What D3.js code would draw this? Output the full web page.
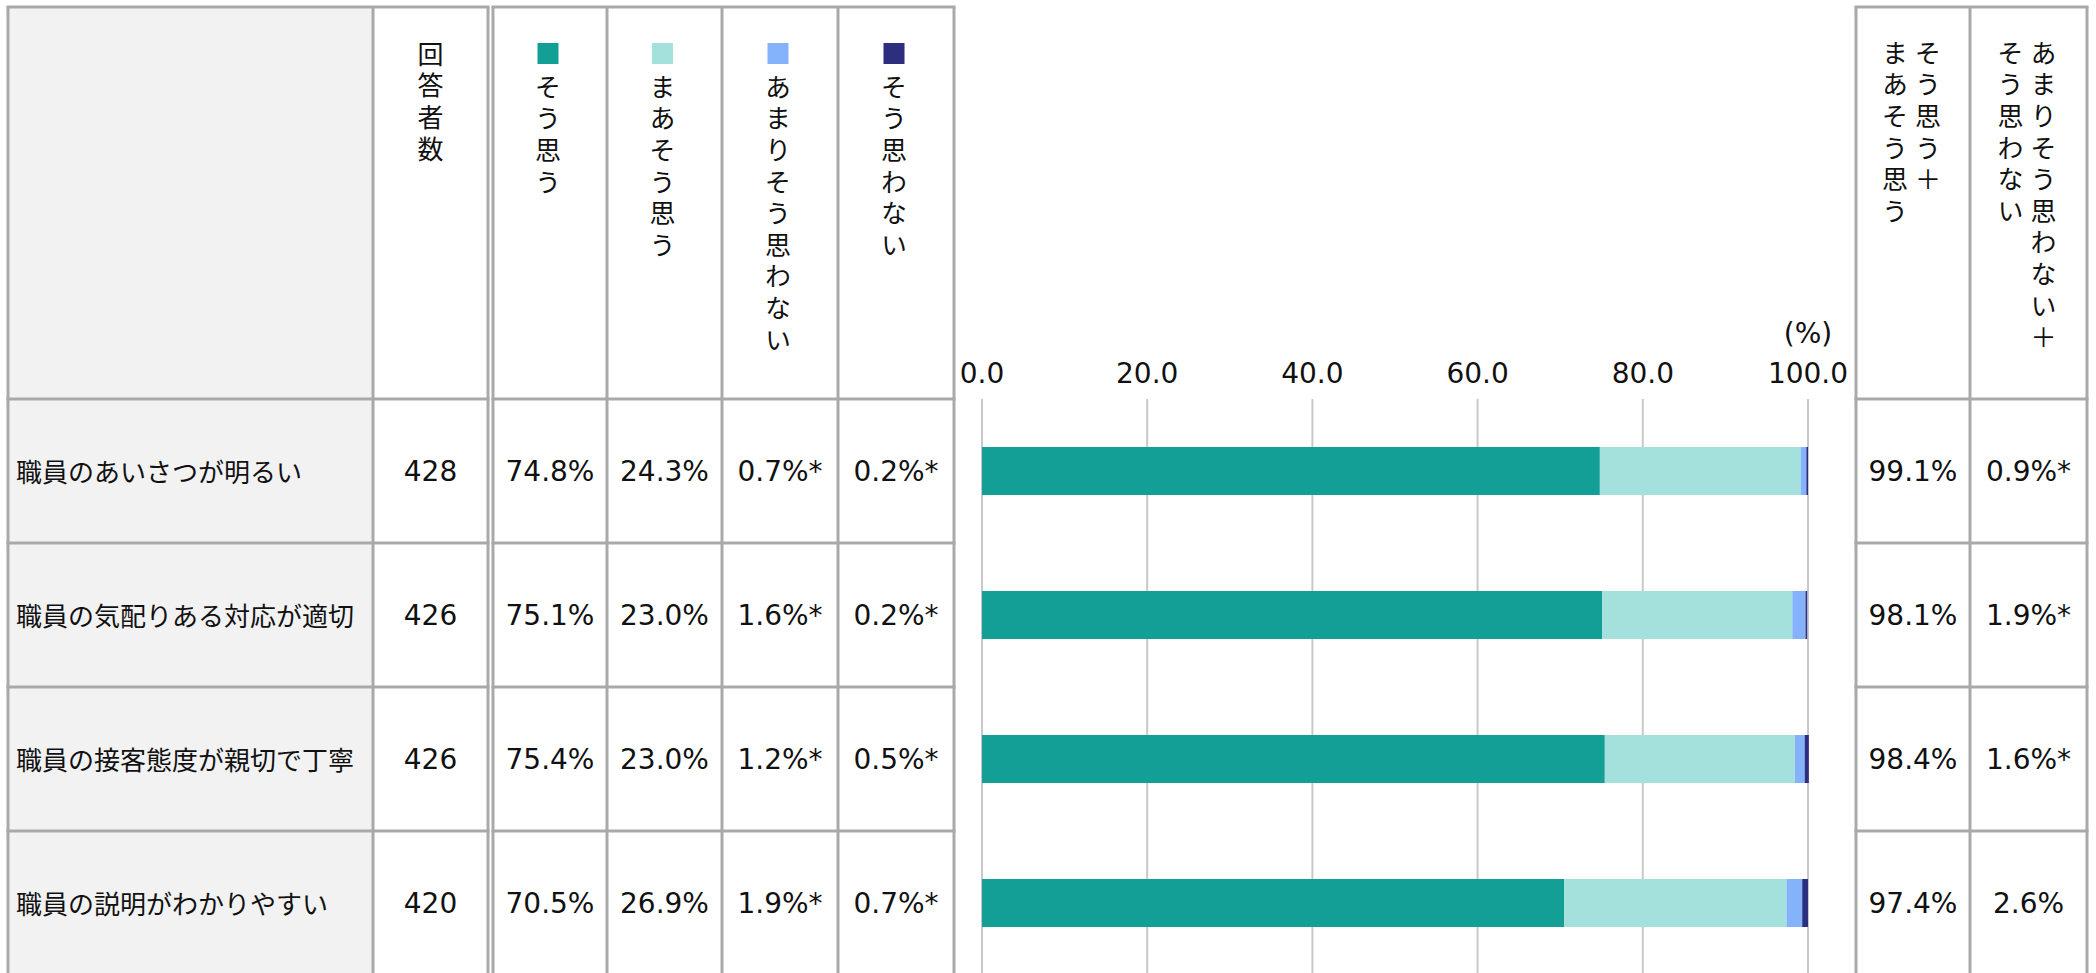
<!DOCTYPE html>
<html>
<head>
<meta charset="utf-8">
<script src="https://cdn.jsdelivr.net/npm/d3@7"></script>
<style>
    body { margin: 0; background: #fff; }
    svg text { font-family: "DejaVu Sans", "Noto Sans CJK JP", sans-serif; fill: #111; }
    .jp { font-family: "Noto Sans CJK JP", sans-serif; }
    .vert { writing-mode: vertical-rl; font-family: "Noto Sans CJK JP", sans-serif; font-size: 26px; letter-spacing: 5.6px; }
</style>
</head>
<body>
<svg id="chart"></svg>
<script>
// 設問
const items = ['職員のあいさつが明るい', '職員の気配りある対応が適切', '職員の接客態度が親切で丁寧', '職員の説明がわかりやすい'];
const counts = [428, 426, 426, 420];

// 回答（%）
const seriesNames = ['そう思う', 'まあそう思う', 'あまりそう思わない', 'そう思わない'];
const seriesColors = ['#139e96', '#a5e1dc', '#85b3fb', '#2d2e80'];
const agree = [74.8, 75.1, 75.4, 70.5];
const somewhatAgree = [24.3, 23.0, 23.0, 26.9];
const somewhatDisagree = [0.7, 1.6, 1.2, 1.9];
const disagree = [0.2, 0.2, 0.5, 0.7];

// 合計列
const agreeTotal = [99.1, 98.1, 98.4, 97.4];
const disagreeTotal = [0.9, 1.9, 1.6, 2.6];
const totalHeaders = [['そう思う＋', 'まあそう思う'], ['あまりそう思わない＋', 'そう思わない']];

const ticks = [0, 20, 40, 60, 80, 100];

const W = 2096, H = 973;
const topY = 7, headerBottom = 399, rowH = 144;
const lineColor = '#a9a9a9';

const svg = d3.select('#chart').attr('width', W).attr('height', H);

// 行のスケール
const y = d3.scaleBand()
    .domain(items)
    .range([headerBottom, headerBottom + rowH * items.length]);

const x = d3.scaleLinear().domain([0, 100]).range([982, 1808]);

// 列の境界
const leftCols = [8, 373, 488];
const valueCols = [493, 607, 722, 838, 954];
const rightCols = [1856, 1970, 2087];
const hLines = [topY, headerBottom].concat(items.map(d => y(d) + rowH));

const fmt = v => v.toFixed(1) + '%' + (v < 2.5 ? '*' : '');
const mid = (cols, i) => (cols[i] + cols[i + 1]) / 2;

// 項目列の背景
svg.append('rect')
    .attr('x', leftCols[0]).attr('y', topY)
    .attr('width', leftCols[1] - leftCols[0]).attr('height', H - topY)
    .attr('fill', '#f2f2f2');

// グリッド線
svg.append('g')
    .selectAll('line')
    .data(ticks)
    .enter().append('line')
    .attr('x1', d => x(d)).attr('x2', d => x(d))
    .attr('y1', headerBottom).attr('y2', H)
    .attr('stroke', '#c9c9c9')
    .attr('stroke-width', 2);

// 目盛ラベル
svg.append('g')
    .selectAll('text')
    .data(ticks)
    .enter().append('text')
    .attr('x', d => x(d))
    .attr('y', 383)
    .attr('text-anchor', 'middle')
    .attr('font-size', 28)
    .text(d => d.toFixed(1));

svg.append('text')
    .attr('x', x(100))
    .attr('y', 343)
    .attr('text-anchor', 'middle')
    .attr('font-size', 28)
    .text('(%)');

// 積み上げ棒
const rows = items.map((d, i) => ({
    item: d,
    s0: agree[i], s1: somewhatAgree[i], s2: somewhatDisagree[i], s3: disagree[i]
}));
const keys = ['s0', 's1', 's2', 's3'];
const stacked = d3.stack().keys(keys)(rows);
const barH = 48;

svg.append('g')
    .selectAll('g')
    .data(stacked)
    .enter().append('g')
    .attr('fill', (d, i) => seriesColors[i])
    .selectAll('rect')
    .data(d => d)
    .enter().append('rect')
    .attr('x', d => x(d[0]))
    .attr('width', d => x(d[1]) - x(d[0]))
    .attr('y', d => y(d.data.item) + (rowH - barH) / 2)
    .attr('height', barH);

// 表の罫線
function drawGrid(cols) {
    const g = svg.append('g').attr('stroke', lineColor).attr('stroke-width', 3);
    g.selectAll('.v')
        .data(cols)
        .enter().append('line')
        .attr('x1', d => d).attr('x2', d => d)
        .attr('y1', topY).attr('y2', H);
    g.selectAll('.h')
        .data(hLines)
        .enter().append('line')
        .attr('x1', cols[0] - 1.5).attr('x2', cols[cols.length - 1] + 1.5)
        .attr('y1', d => d).attr('y2', d => d);
}
drawGrid(leftCols);
drawGrid(valueCols);
drawGrid(rightCols);

// ヘッダー
svg.append('text')
    .attr('class', 'vert')
    .attr('x', mid(leftCols, 1))
    .attr('y', 41)
    .text('回答者数');

seriesNames.forEach((name, i) => {
    const cx = mid(valueCols, i) - 2;
    svg.append('rect')
        .attr('x', cx - 10.5).attr('y', 43)
        .attr('width', 21).attr('height', 21)
        .attr('fill', seriesColors[i]);
    svg.append('text')
        .attr('class', 'vert')
        .attr('x', cx)
        .attr('y', 74)
        .text(name);
});

totalHeaders.forEach((lines, i) => {
    const cx = mid(rightCols, i);
    lines.forEach((line, j) => {
        svg.append('text')
            .attr('class', 'vert')
            .attr('x', cx + 15 - j * 33)
            .attr('y', 40)
            .text(line);
    });
});

// 各行の値
items.forEach((item, i) => {
    const cy = y(item) + rowH / 2;
    svg.append('text')
        .attr('class', 'jp')
        .attr('x', 16)
        .attr('y', cy + 11)
        .attr('font-size', 26)
        .text(item);

    svg.append('text')
        .attr('x', mid(leftCols, 1))
        .attr('y', cy + 10)
        .attr('text-anchor', 'middle')
        .attr('font-size', 28)
        .text(counts[i]);

    [agree, somewhatAgree, somewhatDisagree, disagree].forEach((arr, j) => {
        svg.append('text')
            .attr('x', mid(valueCols, j))
            .attr('y', cy + 10)
            .attr('text-anchor', 'middle')
            .attr('font-size', 28)
            .text(fmt(arr[i]));
    });

    [agreeTotal, disagreeTotal].forEach((arr, j) => {
        svg.append('text')
            .attr('x', mid(rightCols, j))
            .attr('y', cy + 10)
            .attr('text-anchor', 'middle')
            .attr('font-size', 28)
            .text(fmt(arr[i]));
    });
});
</script>
</body>
</html>
